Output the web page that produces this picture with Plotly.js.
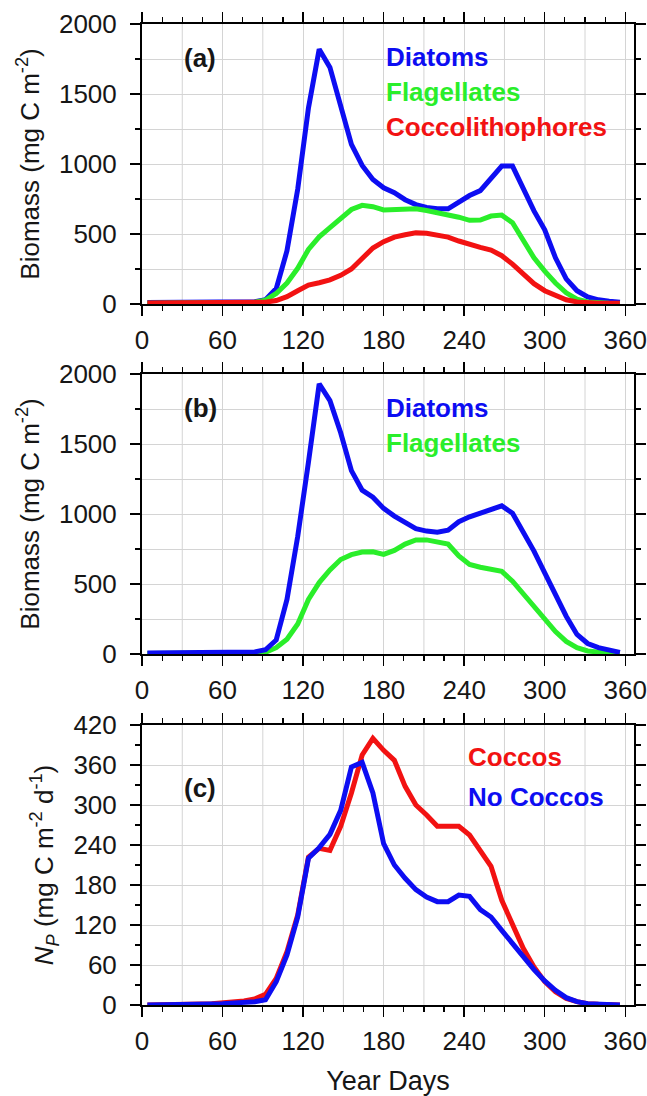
<!DOCTYPE html>
<html>
<head>
<meta charset="utf-8">
<script src="https://cdn.plot.ly/plotly-3.0.1.min.js"></script>
<style>html,body{margin:0;padding:0;background:#fff;}#chart{width:647px;height:1096px;}</style>
</head>
<body>
<div id="chart"></div>
<script>
// Year days of the model output
const days = [4,12,20,28,36,44,52,60,68,76,84,92,100,108,116,124,132,140,148,156,164,172,180,188,196,204,212,220,228,236,244,252,260,268,276,284,292,300,308,316,324,332,340,348,356];

// Panel (a): biomass with coccolithophores (mg C m-2)
const diatomsA = [10,10,10,10,10,10,10,10,11,12,16,30,110,380,820,1400,1820,1690,1420,1140,990,890,830,795,745,710,690,680,680,730,775,810,900,985,985,825,665,530,330,180,95,50,30,20,12];
const flagellatesA = [5,5,5,5,5,5,6,6,7,8,12,28,75,150,255,390,480,545,610,675,705,695,672,672,675,680,668,652,640,620,598,600,628,635,580,450,330,235,150,80,35,15,8,5,4];
const coccosA = [8,8,8,8,8,8,8,9,9,10,11,13,25,52,95,135,152,172,205,250,325,400,445,478,495,508,505,495,478,450,425,405,385,345,285,215,145,95,60,30,15,8,6,5,5];

// Panel (b): biomass without coccolithophores (mg C m-2)
const diatomsB = [8,8,8,8,8,8,9,9,10,12,15,30,100,390,840,1370,1930,1810,1580,1310,1170,1120,1040,985,940,895,878,870,885,945,980,1005,1025,1058,1005,870,735,580,430,270,140,75,45,25,12];
const flagellatesB = [4,4,4,4,4,4,4,5,5,6,8,12,45,105,215,390,510,600,675,710,728,730,712,740,785,815,815,800,785,700,640,620,605,590,520,430,330,245,160,90,45,22,12,6,4];

// Panel (c): net primary production (mg C m-2 d-1)
const npCoccos = [0,0,0.5,1,1,1.5,2,3,4,6,9,16,40,80,135,222,235,232,268,318,375,400,382,367,328,300,285,268,268,268,255,233,208,157,122,85,57,35,20,10,5,2,1,0.5,0];
const npNoCoccos = [0,0,0,0.5,1,1,1.5,2,3,4,5,8,35,75,132,220,236,256,292,357,364,318,242,210,190,173,162,155,155,165,163,143,132,112,92,72,53,36,22,11,5,2,1,0.5,0];

// Labels
const namesA = ['Diatoms','Flagellates','Coccolithophores'];
const namesB = ['Diatoms','Flagellates'];
const namesC = ['Coccos','No Coccos'];
const panelTags = ['(a)','(b)','(c)'];
const xTicks = [0,60,120,180,240,300,360];
const biomassTicks = [0,500,1000,1500,2000];
const npTicks = [0,60,120,180,240,300,360,420];

const BLUE = '#0d0df2', GREEN = '#2aee2a', RED = '#f21212';
const FONT = 'Liberation Sans, Arial, Helvetica, sans-serif';
const GRID = '#d4d4d4';
const TXT = '#161616';

function line(y, color, xa, ya, name){
  return {x: days, y: y, type: 'scatter', mode: 'lines', name: name,
          line: {color: color, width: 5, shape: 'linear'}, xaxis: xa, yaxis: ya, showlegend: false, hoverinfo: 'skip'};
}

const traces = [
  line(diatomsA, BLUE, 'x', 'y', namesA[0]),
  line(flagellatesA, GREEN, 'x', 'y', namesA[1]),
  line(coccosA, RED, 'x', 'y', namesA[2]),
  line(flagellatesB, GREEN, 'x2', 'y2', namesB[1]),
  line(diatomsB, BLUE, 'x2', 'y2', namesB[0]),
  line(npCoccos, RED, 'x3', 'y3', namesC[0]),
  line(npNoCoccos, BLUE, 'x3', 'y3', namesC[1])
];

function xAxis(anchor, withTitle){
  const ax = {
    anchor: anchor, domain: [0,1], range: [0, 366.5],
    tickmode: 'array', tickvals: xTicks, ticktext: xTicks.map(String),
    ticks: 'outside', ticklen: 10, tickwidth: 1.5, tickcolor: '#000',
    showline: true, linecolor: '#000', linewidth: 2, mirror: 'allticks',
    showgrid: true, gridcolor: GRID, gridwidth: 1, zeroline: false,
    tickfont: {family: FONT, size: 26, color: TXT},
    ticklabelstandoff: 2,
    minor: {dtick: 15, tick0: 0, ticks: 'outside', ticklen: 5, tickwidth: 1.2, tickcolor: '#000', showgrid: false}
  };
  if (withTitle) ax.title = {text: 'Year Days', font: {family: FONT, size: 27, color: TXT}, standoff: 20};
  return ax;
}
function yAxis(anchor, domain, range, ticks, minorDtick, minorGrid, title){
  return {
    anchor: anchor, domain: domain, range: range,
    tickmode: 'array', tickvals: ticks, ticktext: ticks.map(String),
    ticks: 'outside', ticklen: 10, tickwidth: 1.5, tickcolor: '#000',
    showline: true, linecolor: '#000', linewidth: 2, mirror: 'allticks',
    showgrid: true, gridcolor: GRID, gridwidth: 1, zeroline: false,
    tickfont: {family: FONT, size: 26, color: TXT},
    ticklabelstandoff: 8,
    minor: {dtick: minorDtick, tick0: 0, ticks: 'outside', ticklen: 5, tickwidth: 1.2, tickcolor: '#000', showgrid: minorGrid, gridcolor: GRID, gridwidth: 1},
    title: {text: title, font: {family: FONT, size: 26, color: TXT}, standoff: 12}
  };
}

const bioTitle = 'Biomass (mg C m<sup>-2</sup>)';
const npTitle = '<i>N</i><sub><i>P</i></sub> (mg C m<sup>-2</sup> d<sup>-1</sup>)';

// extra vertical grid lines at odd multiples of 30 days
const shapes = [];
[['x','y'],['x2','y2'],['x3','y3']].forEach(([xa, ya]) => {
  [30,90,150,210,270,330].forEach(v => {
    shapes.push({type: 'line', xref: xa, yref: ya + ' domain', x0: v, x1: v, y0: 0, y1: 1,
                 layer: 'below', line: {color: GRID, width: 1}});
  });
});

function label(text, color, xa, ya, x, y, anchor){
  return {text: '<b>' + text + '</b>', xref: xa + ' domain', yref: ya + ' domain', x: x, y: y,
          xanchor: anchor, yanchor: 'middle', showarrow: false,
          font: {family: FONT, size: 26, color: color}};
}

const annotations = [
  label(panelTags[0], TXT, 'x', 'y', 0.118, 0.879, 'center'),
  label(panelTags[1], TXT, 'x2', 'y2', 0.118, 0.879, 'center'),
  label(panelTags[2], TXT, 'x3', 'y3', 0.118, 0.775, 'center'),
  label(namesA[0], BLUE, 'x', 'y', 0.492, 0.882, 'left'),
  label(namesA[1], GREEN, 'x', 'y', 0.492, 0.757, 'left'),
  label(namesA[2], RED, 'x', 'y', 0.492, 0.632, 'left'),
  label(namesB[0], BLUE, 'x2', 'y2', 0.492, 0.879, 'left'),
  label(namesB[1], GREEN, 'x2', 'y2', 0.492, 0.754, 'left'),
  label(namesC[0], RED, 'x3', 'y3', 0.659, 0.887, 'left'),
  label(namesC[1], BLUE, 'x3', 'y3', 0.659, 0.744, 'left')
];

const layout = {
  width: 647, height: 1096,
  margin: {l: 142, r: 13, t: 24, b: 91},
  paper_bgcolor: '#fff', plot_bgcolor: '#fff',
  showlegend: false,
  xaxis: xAxis('y', false),
  xaxis2: xAxis('y2', false),
  xaxis3: xAxis('y3', true),
  yaxis: yAxis('x', [0.71458, 1], [0, 2000], biomassTicks, 250, true, bioTitle),
  yaxis2: yAxis('x2', [0.35780, 0.64322], [0, 2000], biomassTicks, 250, true, bioTitle),
  yaxis3: yAxis('x3', [0, 0.28542], [0, 420], npTicks, 30, false, npTitle),
  shapes: shapes,
  annotations: annotations
};

Plotly.newPlot('chart', traces, layout, {displayModeBar: false, staticPlot: true});
</script>
</body>
</html>
